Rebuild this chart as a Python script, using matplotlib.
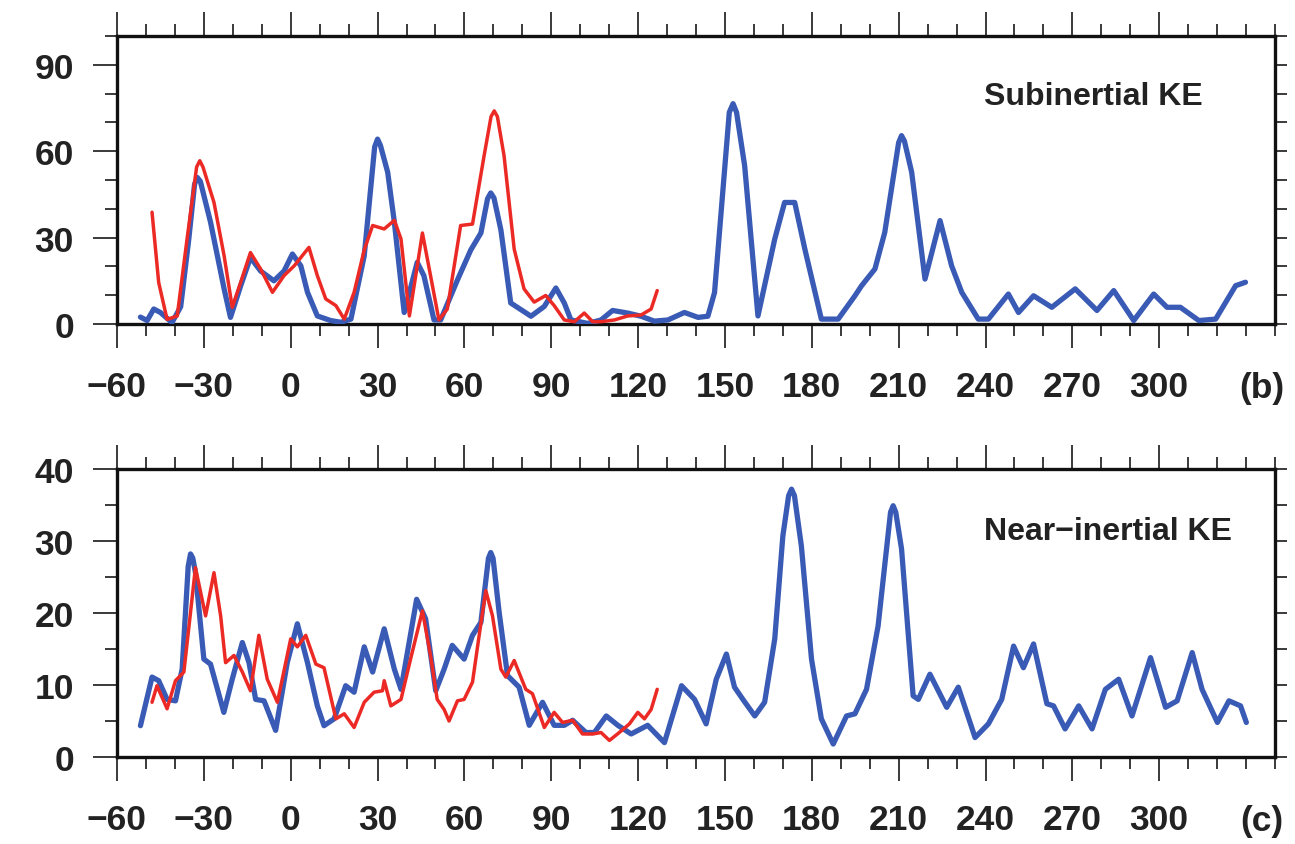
import matplotlib
matplotlib.use("Agg")
import matplotlib.pyplot as plt
from matplotlib.ticker import MultipleLocator

plt.rcParams['font.family'] = ['Liberation Sans', 'DejaVu Sans']

# ---------------- data ----------------
sub_blue_x = [-51.9, -49.6, -47.3, -45, -41, -38, -35.2, -33.2, -32.3, -31.2, -27.7, -23, -20.8, -17.3, -13.9,
              -10.4, -5.8, -2.3, 0.6, 3.5, 5.8, 9.2, 13.8, 17.3, 20.8, 25.4, 29, 30, 31, 33.5, 35.8, 39.2,
              43.7, 46, 49.5, 51.8, 57.6, 62.2, 65.7, 68, 69.1, 70.2, 72.6, 76, 79.5, 83, 87.6, 91.6, 94.5,
              96.8, 102.6, 107.2, 111.2, 116.4, 121, 125.6, 130.3, 136, 140.7, 144.1, 146.4, 151.5, 152.8,
              154, 156.8, 161.4, 167.2, 170.6, 174.1, 177.6, 183.3, 189.1, 194.9, 197.2, 201.8, 205.2,
              210, 211, 212, 214.5, 219.1, 224.3, 228.3, 231.8, 237.5, 241, 247.9, 251.4, 256.6, 262.9, 271,
              278.5, 284.3, 291.2, 298.1, 302.7, 307.3, 313.7, 319.5, 326.4, 329.8]
sub_blue_y = [2.4, 1.2, 5.2, 4, 0.5, 6, 29.5, 48.5, 50.9, 49.5, 35.4, 12.2, 2.3, 13.2, 23.1,
              18.4, 15, 18.4, 24.3, 20.2, 11, 2.8, 1.2, 0.6, 1.7, 23.7, 61.5, 64.2, 62, 52.7, 35.4, 4,
              21.4, 16.8, 1.4, 1.4, 15.3, 25.7, 31.6, 43.5, 45.5, 43.8, 32.7, 7.3, 5, 2.7, 6.1, 12.5, 7.3,
              1.4, 0.2, 1.4, 4.7, 3.8, 2.7, 1, 1.4, 4, 2.3, 2.7, 10.9, 73.5, 76.5,
              73.5, 55, 2.8, 29.5, 42.2, 42.2, 26, 1.7, 1.7, 9.8, 13.3, 19.1, 31.8,
              63, 65.4, 63.5, 52.7, 15.6, 35.9, 20.2, 11, 1.7, 1.7, 10.4, 4, 9.8, 5.8, 12.2,
              4.7, 11.6, 1.2, 10.4, 5.8, 5.8, 1.2, 1.7, 13.3, 14.5]

sub_red_x = [-47.9, -45.6, -42.7, -39.2, -35.8, -32.5, -31.4, -30.3, -26.5, -23, -20.2, -17.3, -13.9, -10.4,
             -6.3, -2.3, 1.2, 6.3, 9.2, 12.1, 15.6, 18.5, 21.9, 25.4, 28.3, 32.3, 35.8, 38.1, 41,
             45.5, 48.3, 51.2, 54.1, 58.7, 62.8, 66.8, 69.2, 70.3, 71.4, 73.7, 77.2, 80.6, 84.1, 88.1, 91,
             94.5, 98, 101.4, 104.3, 107.2, 111.8, 116.4, 121, 124.5, 126.6]
sub_red_y = [38.8, 14.4, 1.6, 2.8, 29.5, 54.5, 56.7, 54.5, 42.2, 23.7, 5.8, 14.4, 24.8, 19.1,
             11, 16.8, 20.2, 26.6, 16.8, 8.7, 6.4, 1.7, 11, 25.7, 34.2, 33, 36, 29.5, 2.8,
             31.6, 16.8, 1.4, 5.2, 34.2, 34.7, 58.4, 72, 74, 72, 58.4, 26, 12.2, 7.6, 9.9, 6.4,
             1.4, 0.8, 3.8, 0.8, 0.8, 1.4, 2.8, 3.1, 5.2, 11.6]

near_blue_x = [-51.9, -47.9, -45.6, -42.7, -39.8, -37.5, -35.4, -34.6, -33.8, -32.9, -30, -27.7, -23.1, -20.2,
               -16.7, -14.4, -12.1, -9.2, -5.2, -1.2, 2.3, 5.8, 9.2, 11.5, 15, 19, 21.9, 25.4,
               28.3, 32.3, 35.8, 38.1, 43.5, 46.6, 50.1, 53, 55.8, 59.9, 62.8, 65.7, 68.3, 69.1, 69.9, 72,
               74.9, 78.9, 82.4, 87, 91, 94.5, 97.4, 102, 104.9, 109, 113, 117.6, 123.3, 129.1,
               135, 139.5, 143.5, 147, 150.5, 153.3, 156.2, 160.3, 163.7, 167.2, 170, 172, 173,
               174, 176.4, 179.9, 183.3, 187.4, 192, 194.9, 198.9, 202.9, 207.2, 208.1, 209, 211, 215, 216.8,
               220.8, 226.6, 230.6, 236.4, 241, 245.6, 249.7, 253.1, 256.6, 261.2, 263.5, 267.5,
               272.2, 276.8, 281.4, 286, 290.6, 297, 302.2, 306.2, 311.4, 314.8, 320.1, 324.1,
               328.1, 330.1]
near_blue_y = [4.35, 11.1, 10.6, 8.0, 7.8, 12.2, 26.5, 28.2, 27.6, 25.6, 13.6, 12.9, 6.2, 10.8,
               15.9, 13.1, 8.0, 7.8, 3.7, 13.1, 18.5, 13.1, 7.1, 4.35, 5.3, 9.9, 9.0, 15.3,
               11.8, 17.8, 12.2, 9.4, 21.9, 19.2, 9.2, 12.2, 15.5, 13.6, 16.9, 18.7, 27.6, 28.4, 27.6, 20.1,
               11.3, 9.7, 4.4, 7.6, 4.4, 4.4, 5.1, 3.4, 3.4, 5.7, 4.4, 3.2, 4.4, 2.0,
               9.9, 8.0, 4.6, 10.8, 14.3, 9.7, 8.0, 5.7, 7.6, 16.4, 30.7, 36.3, 37.2,
               36.3, 29.3, 13.6, 5.3, 1.8, 5.7, 6.0, 9.4, 18.2, 34.0, 34.9, 34.0, 28.9, 8.5, 8.0,
               11.5, 6.9, 9.7, 2.7, 4.6, 8.0, 15.4, 12.4, 15.7, 7.4, 7.1, 3.9,
               7.1, 3.9, 9.4, 10.8, 5.7, 13.8, 6.9, 7.8, 14.5, 9.4, 4.8, 7.8,
               7.1, 4.8]

near_red_x = [-47.9, -46.2, -42.7, -39.8, -36.9, -34.6, -32.9, -29.4, -26.5, -24.2, -22.5, -19.6,
              -16.7, -13.9, -11, -8.1, -4.6, 0, 2.3, 5.2, 8.7, 11.5, 15.6, 18.5, 21.9, 25.4, 28.8,
              31.7, 32.3, 34.6, 38.1, 41.4, 45.5, 48.3, 50.6, 53, 54.7, 57.6, 59.9, 62.8, 65.1,
              67.4, 69.7, 72.6, 74.3, 77.2, 81.2, 83.5, 87.6, 91, 93.9, 97.4, 100.8, 104.3,
              107.2, 110.1, 113.5, 117, 119.9, 122.2, 124.5, 126.6]
near_red_y = [7.6, 9.9, 6.7, 10.6, 11.8, 20.1, 26.3, 19.6, 25.6, 19.6, 13.1, 14.1,
              11.8, 9.2, 16.9, 10.8, 7.6, 16.4, 15.3, 16.9, 12.9, 12.4, 5.3, 6.0, 4.1, 7.6, 9.0,
              9.2, 10.6, 7.1, 8.0, 13.6, 20.3, 14.1, 8.0, 6.6, 5.0, 7.8, 8.0, 10.4, 16.9,
              23.1, 19.6, 12.2, 11.1, 13.4, 9.4, 8.8, 4.1, 6.2, 4.8, 5.1, 3.2, 3.2,
              3.4, 2.3, 3.4, 4.6, 6.2, 5.3, 6.6, 9.4]

xticks = [-60, -30, 0, 30, 60, 90, 120, 150, 180, 210, 240, 270, 300]
xtick_labels = ['\u221260', '\u221230', '0', '30', '60', '90', '120', '150', '180', '210', '240', '270', '300']
sub_yticks = [0, 30, 60, 90]
near_yticks = [0, 10, 20, 30, 40]
titles = ['Subinertial KE', 'Near\u2212inertial KE']
panel_tags = ['(b)', '(c)']

# ---------------- styling ----------------
BLUE = '#3a5bb5'
RED = '#ec2a25'
TXT = '#222222'
TICKC = '#3a3a3a'

fig = plt.figure(figsize=(12.95, 8.45), dpi=100)
W, H = 1295, 845


def make_ax(top_px, bot_px):
    l, r = 117, 1275
    return fig.add_axes([l / W, 1 - bot_px / H, (r - l) / W, (bot_px - top_px) / H])


ax1 = make_ax(37, 325)
ax2 = make_ax(470, 758)

panels = [
    (ax1, sub_blue_x, sub_blue_y, sub_red_x, sub_red_y, (0, 100), sub_yticks, 10, titles[0], (0.843, 0.792), panel_tags[0]),
    (ax2, near_blue_x, near_blue_y, near_red_x, near_red_y, (0, 40), near_yticks, 5, titles[1], (0.856, 0.785), panel_tags[1]),
]

for ax, bx, by, rx, ry, ylim, yt, yminor, title, tpos, tag in panels:
    ax.plot(bx, by, color=BLUE, lw=3.8, solid_joinstyle='round', solid_capstyle='round', zorder=3)
    ax.plot(rx, ry, color=RED, lw=2.5, solid_joinstyle='round', solid_capstyle='round', zorder=4)
    ax.set_xlim(-60, 340)
    ax.set_ylim(*ylim)
    ax.set_xticks(xticks)
    ax.set_xticklabels(xtick_labels)
    ax.xaxis.set_minor_locator(MultipleLocator(10))
    ax.set_yticks(yt)
    ax.yaxis.set_minor_locator(MultipleLocator(yminor))
    for s in ax.spines.values():
        s.set_linewidth(2.4)
        s.set_color('#111111')
    ax.tick_params(axis='x', which='both', direction='out', top=True, bottom=True,
                   color=TICKC, width=1.4)
    ax.tick_params(axis='x', which='major', length=17, pad=16,
                   labelsize=25.5, labelcolor=TXT)
    ax.tick_params(axis='x', which='minor', length=8.5)
    ax.tick_params(axis='y', which='both', direction='out', left=True, right=False,
                   color=TICKC, width=1.4)
    ax.tick_params(axis='y', which='major', length=17, pad=14, labelsize=25.5, labelcolor=TXT)
    ax.tick_params(axis='y', which='minor', length=8.5)
    for lab in ax.get_xticklabels() + ax.get_yticklabels():
        lab.set_fontweight('bold')
    # right side: short ticks at every step
    sec = ax.secondary_yaxis('right')
    sec.set_yticks([])
    sec.yaxis.set_minor_locator(MultipleLocator(yminor))
    sec.tick_params(axis='y', which='minor', direction='out', length=8.5, width=1.4, color=TICKC)
    sec.spines['right'].set_visible(False)
    ax.text(tpos[0], tpos[1], title, transform=ax.transAxes, ha='center', va='center',
            fontsize=23, fontweight='bold', color=TXT)
    ax.text(0.989, -0.22, tag, transform=ax.transAxes, ha='center', va='center',
            fontsize=25.5, fontweight='bold', color=TXT, clip_on=False)

fig.savefig('out.png', dpi=100, facecolor='white')
